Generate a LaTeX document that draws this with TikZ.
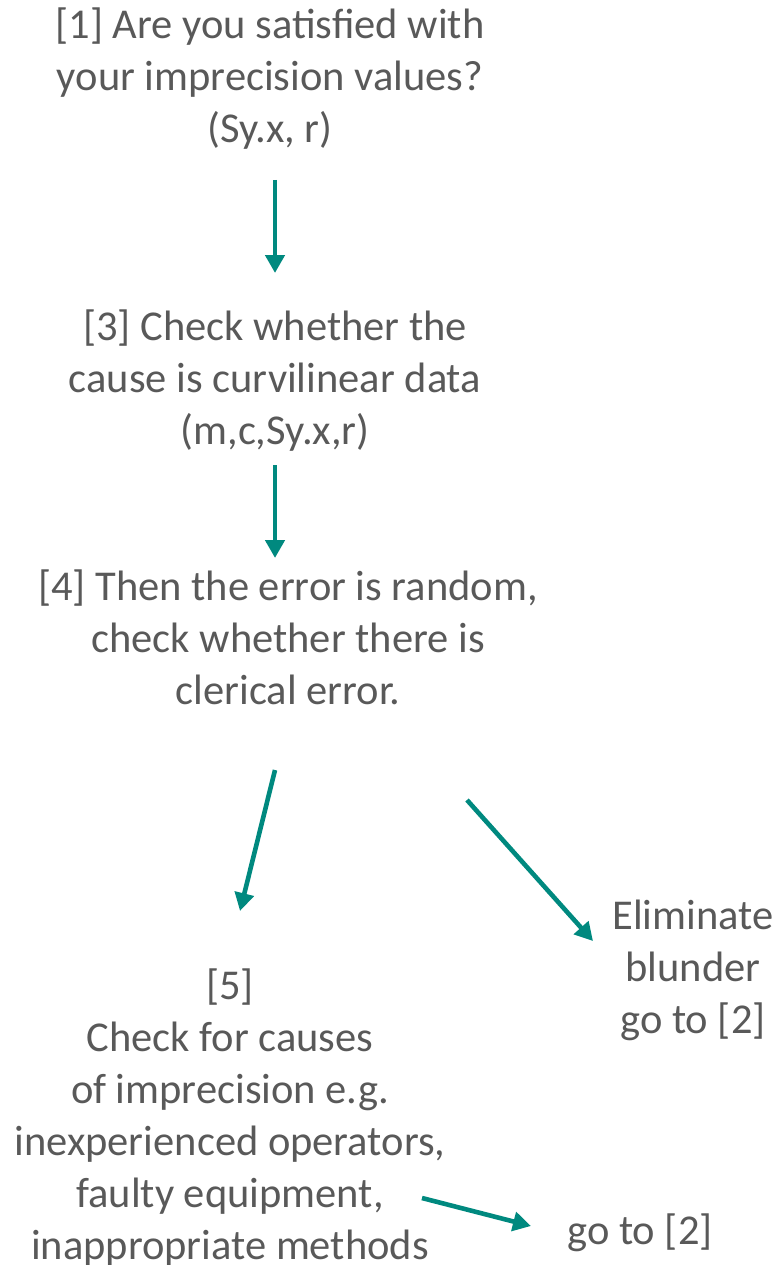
\documentclass[tikz,border=0pt]{standalone}
\usepackage{fontspec}
\setmainfont{Carlito}
\usetikzlibrary{arrows.meta}
\definecolor{txt}{HTML}{595959}
\definecolor{arr}{HTML}{00897F}
\begin{document}
\begin{tikzpicture}[x=1pt,y=-1pt,
  lbl/.style={text=txt,align=center,font=\fontsize{42.5}{52}\selectfont,inner sep=0pt},
  conn/.style={draw=arr,line width=4.6pt,-{Triangle[length=18pt,width=19pt]}}]
\useasboundingbox (0,0) rectangle (781,1265);
\node[lbl] (n1) at (270,79) {[1] Are you satisfied with\\your imprecision values?\\(Sy.x, r)};
\node[lbl] (n3) at (275,381) {[3] Check whether the\\cause is curvilinear data\\(m,c,Sy.x,r)};
\node[lbl] (n4) at (288,637) {[4] Then the error is random,\\check whether there is\\clerical error.};
\node[lbl] (n5) at (230,1118) {[5]\\Check for causes\\of imprecision e.g.\\inexperienced operators,\\faulty equipment,\\inappropriate methods};
\node[lbl] (ne) at (693,970) {Eliminate\\blunder\\go to [2]};
\node[lbl] (ng) at (640,1233) {go to [2]};
\coordinate (a1s) at (275,180); \coordinate (a1e) at (275,273);
\coordinate (a2s) at (275,465); \coordinate (a2e) at (275,558);
\coordinate (a3s) at (275,770); \coordinate (a3e) at (240,911);
\coordinate (a4s) at (467,800); \coordinate (a4e) at (593,941);
\coordinate (a5s) at (422,1198); \coordinate (a5e) at (531,1226);
\draw[conn] (a1s) -- (a1e);
\draw[conn] (a2s) -- (a2e);
\draw[conn] (a3s) -- (a3e);
\draw[conn] (a4s) -- (a4e);
\draw[conn] (a5s) -- (a5e);
\end{tikzpicture}
\end{document}
